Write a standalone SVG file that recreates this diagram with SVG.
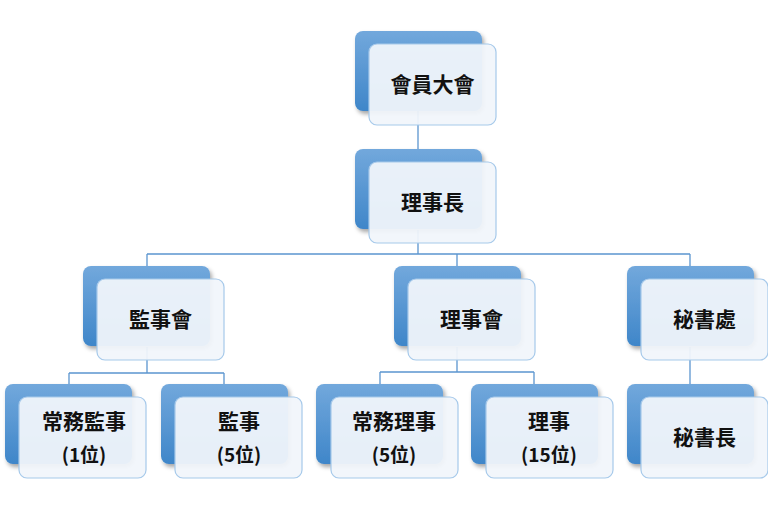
<svg xmlns="http://www.w3.org/2000/svg" width="768" height="509" viewBox="0 0 768 509">
<defs>
<linearGradient id="blueGrad" x1="0" y1="0" x2="0" y2="1">
<stop offset="0" stop-color="#72a8dc"/>
<stop offset="1" stop-color="#3f86c9"/>
</linearGradient>
<filter id="shadow" x="-10%" y="-10%" width="130%" height="140%">
<feDropShadow dx="2" dy="3" stdDeviation="2" flood-color="#000" flood-opacity="0.35"/>
</filter>
<style>
.back{fill:url(#blueGrad);filter:url(#shadow);}
.front{fill:#f1f5fb;fill-opacity:0.94;stroke:#a6c9ea;stroke-width:1.2;}
.conn{fill:none;stroke:#5b95cf;stroke-width:1.3;}
text{font-family:"Noto Sans CJK TC","Noto Sans",sans-serif;font-weight:bold;font-size:21px;fill:#111;text-anchor:middle;}
.sub{font-size:19px;}
</style>
</defs>
<rect width="768" height="509" fill="#fff"/>
<g id="connectors">
<path class="conn" d="M418,111 V149"/>
<path class="conn" d="M418,230 V254 M147,254 H690 M147,254 V266 M457,254 V266 M690,254 V266"/>
<path class="conn" d="M147,347 V373 M69,373 H224 M69,373 V384 M224,373 V384"/>
<path class="conn" d="M457,347 V372 M380,372 H534 M380,372 V384 M534,372 V384"/>
<path class="conn" d="M690,347 V384"/>
</g>
<g id="n-general-assembly">
<rect class="back" x="355" y="31" width="127" height="80" rx="8"/>
<rect class="front" x="369" y="44" width="127" height="81" rx="8"/>
<text x="432.5" y="92">會員大會</text>
</g>
<g id="n-chairman">
<rect class="back" x="355" y="149" width="127" height="80" rx="8"/>
<rect class="front" x="369" y="162" width="127" height="81" rx="8"/>
<text x="432.5" y="210">理事長</text>
</g>
<g id="n-supervisors-board">
<rect class="back" x="83" y="266" width="127" height="80" rx="8"/>
<rect class="front" x="97" y="279" width="127" height="81" rx="8"/>
<text x="160.5" y="327">監事會</text>
</g>
<g id="n-directors-board">
<rect class="back" x="394" y="266" width="127" height="80" rx="8"/>
<rect class="front" x="408" y="279" width="127" height="81" rx="8"/>
<text x="471.5" y="327">理事會</text>
</g>
<g id="n-secretariat">
<rect class="back" x="627" y="266" width="127" height="80" rx="8"/>
<rect class="front" x="641" y="279" width="127" height="81" rx="8"/>
<text x="704.5" y="327">秘書處</text>
</g>
<g id="n-standing-supervisor">
<rect class="back" x="5" y="384" width="127" height="80" rx="8"/>
<rect class="front" x="19" y="397" width="127" height="81" rx="8"/>
<text x="84" y="429">常務監事</text>
<text class="sub" x="84" y="462">(1位)</text>
</g>
<g id="n-supervisors">
<rect class="back" x="161" y="384" width="127" height="80" rx="8"/>
<rect class="front" x="175" y="397" width="127" height="81" rx="8"/>
<text x="239" y="429">監事</text>
<text class="sub" x="239" y="462">(5位)</text>
</g>
<g id="n-standing-directors">
<rect class="back" x="316" y="384" width="127" height="80" rx="8"/>
<rect class="front" x="331" y="397" width="127" height="81" rx="8"/>
<text x="394" y="429">常務理事</text>
<text class="sub" x="394" y="462">(5位)</text>
</g>
<g id="n-directors">
<rect class="back" x="471" y="384" width="127" height="80" rx="8"/>
<rect class="front" x="486" y="397" width="127" height="81" rx="8"/>
<text x="549" y="429">理事</text>
<text class="sub" x="549" y="462">(15位)</text>
</g>
<g id="n-secretary-general">
<rect class="back" x="627" y="384" width="127" height="80" rx="8"/>
<rect class="front" x="641" y="397" width="127" height="81" rx="8"/>
<text x="704.5" y="445">秘書長</text>
</g>
</svg>
